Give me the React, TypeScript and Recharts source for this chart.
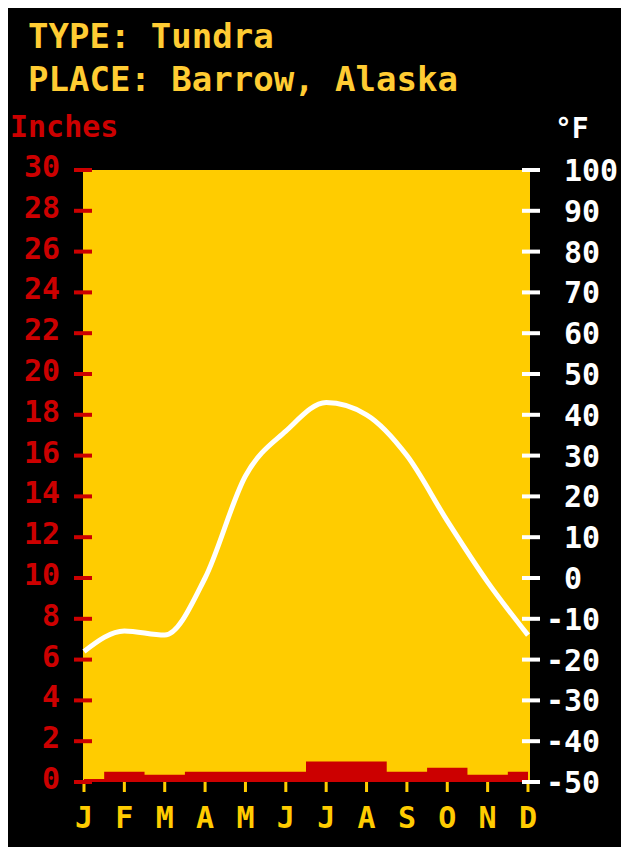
import React from 'react';
import { ComposedChart, Area, Line, XAxis, YAxis, CartesianGrid } from 'recharts';

const months = ['J', 'F', 'M', 'A', 'M', 'J', 'J', 'A', 'S', 'O', 'N', 'D'];
// precipitation, inches
const precip = [0.15, 0.5, 0.35, 0.5, 0.5, 0.5, 1.0, 1.0, 0.5, 0.7, 0.35, 0.5];
// temperature, °F
const temp = [-18, -13, -14, 0, 25, 36, 43, 40, 30, 14, -1, -14];

const inchTicks = [0, 2, 4, 6, 8, 10, 12, 14, 16, 18, 20, 22, 24, 26, 28, 30];
const degTicks = [-50, -40, -30, -20, -10, 0, 10, 20, 30, 40, 50, 60, 70, 80, 90, 100];

const data = months.map((m, i) => ({ idx: i, month: m, precip: precip[i], temp: temp[i] }));
const monthIdx = months.map((_, i) => i);

const YELLOW = '#ffcc00';
const TITLE = '#ffcc33';
const RED = '#cc0000';
const FONT = "'DejaVu Sans Mono', monospace";

const LeftTick = (props: any) => {
  const { x, y, payload } = props;
  return (
    <g>
      <rect x={x - 9} y={y - 2} width={18} height={4} fill={RED} />
      <text x={x - 23} y={y + 7} textAnchor="end" fill={RED} fontFamily={FONT} fontWeight="bold" fontSize={30}>
        {payload.value}
      </text>
    </g>
  );
};

const RightTick = (props: any) => {
  const { x, y, payload } = props;
  const neg = payload.value < 0;
  return (
    <g>
      <rect x={x - 8} y={y - 2} width={18} height={4} fill="#ffffff" />
      <text x={x + (neg ? 16 : 34)} y={y + 11} textAnchor="start" fill="#ffffff" fontFamily={FONT} fontWeight="bold" fontSize={30}>
        {payload.value}
      </text>
    </g>
  );
};

const MonthTick = (props: any) => {
  const { x, y, payload } = props;
  return (
    <g>
      <rect x={x - 1.5} y={y} width={3} height={10} fill={YELLOW} />
      <text x={x} y={y + 46} textAnchor="middle" fill={YELLOW} fontFamily={FONT} fontWeight="bold" fontSize={30}>
        {months[payload.value]}
      </text>
    </g>
  );
};

export default function App() {
  return (
    <div style={{ position: 'relative', width: 621, height: 847, background: '#ffffff', overflow: 'hidden' }}>
      <style>{'body{margin:0;overflow:hidden}'}</style>
      <div style={{ position: 'absolute', left: 8, top: 8, right: 0, bottom: 0, background: '#000000' }} />
      <div style={{ position: 'absolute', left: 0, top: 0 }}>
        <ComposedChart width={621} height={847} data={data} margin={{ top: 170, right: 0, bottom: 0, left: 0 }}>
          <CartesianGrid fill={YELLOW} horizontal={false} vertical={false} />
          <XAxis
            dataKey="idx"
            type="number"
            domain={[0, 11]}
            ticks={monthIdx}
            padding={{ left: 1, right: 2 }}
            height={65}
            axisLine={false}
            tickLine={false}
            tickSize={0}
            tickMargin={0}
            interval={0}
            tick={(p: any) => <MonthTick {...p} />}
          />
          <YAxis
            yAxisId="in"
            orientation="left"
            width={83}
            domain={[0, 30]}
            ticks={inchTicks}
            interval={0}
            axisLine={false}
            tickLine={false}
            tickSize={0}
            tickMargin={0}
            tick={(p: any) => <LeftTick {...p} />}
          />
          <YAxis
            yAxisId="deg"
            orientation="right"
            width={91}
            domain={[-50, 100]}
            ticks={degTicks}
            interval={0}
            axisLine={false}
            tickLine={false}
            tickSize={0}
            tickMargin={0}
            tick={(p: any) => <RightTick {...p} />}
          />
          <Area
            yAxisId="in"
            type="step"
            dataKey="precip"
            fill={RED}
            fillOpacity={1}
            stroke="none"
            isAnimationActive={false}
          />
          <Line
            yAxisId="deg"
            type="monotone"
            dataKey="temp"
            stroke="#ffffff"
            strokeWidth={5}
            dot={false}
            isAnimationActive={false}
          />
        </ComposedChart>
      </div>
      <svg width={621} height={847} style={{ position: 'absolute', left: 0, top: 0, pointerEvents: 'none' }}>
        <text x={28} y={48} fill={TITLE} fontFamily={FONT} fontWeight="bold" fontSize={34}>TYPE: Tundra</text>
        <text x={28} y={91} fill={TITLE} fontFamily={FONT} fontWeight="bold" fontSize={34}>PLACE: Barrow, Alaska</text>
        <text x={10} y={137} fill={RED} fontFamily={FONT} fontWeight="bold" fontSize={30}>Inches</text>
        <text x={555} y={138} fill="#ffffff" fontFamily={FONT} fontWeight="bold" fontSize={28}>°F</text>
      </svg>
    </div>
  );
}
